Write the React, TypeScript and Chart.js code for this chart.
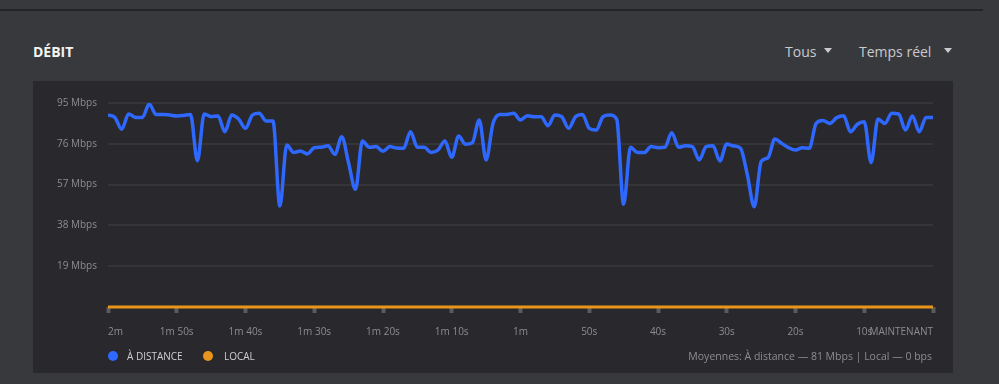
import React, { useEffect, useRef } from 'react';
import { Chart, registerables } from 'chart.js';

Chart.register(...registerables);

// seconds elapsed since the start of the 2-minute window
const SECONDS = [
  0, 1, 2, 3, 4, 5, 6, 7, 8, 9, 10, 11, 12, 13, 14, 15, 16, 17, 18, 19,
  20, 21, 22, 23, 24, 25, 26, 27, 28, 29, 30, 31, 32, 33, 34, 35, 36, 37, 38, 39,
  40, 41, 42, 43, 44, 45, 46, 47, 48, 49, 50, 51, 52, 53, 54, 55, 56, 57, 58, 59,
  60, 61, 62, 63, 64, 65, 66, 67, 68, 69, 70, 71, 72, 73, 74, 75, 76, 77, 78, 79,
  80, 81, 82, 83, 84, 85, 86, 87, 88, 89, 90, 91, 92, 93, 94, 95, 96, 97, 98, 99,
  100, 101, 102, 103, 104, 105, 106, 107, 108, 109, 110, 111, 112, 113, 114, 115, 116, 117, 118, 119,
  120,
];

const X_TICK_LABELS = ['2m', '1m 50s', '1m 40s', '1m 30s', '1m 20s', '1m 10s', '1m', '50s', '40s', '30s', '20s', '10s', 'MAINTENANT'];

// Mbps
const REMOTE = [
  89.4, 88.3, 82.8, 89.9, 88.3, 88.3, 94.5, 89.6, 89.7, 89.4,
  89.0, 89.2, 89.6, 68.1, 89.9, 88.6, 89.0, 81.6, 89.4, 87.5,
  83.2, 89.4, 90.2, 86.6, 86.6, 47.0, 75.4, 72.0, 72.6, 71.3,
  74.2, 74.4, 75.1, 71.1, 79.3, 67.0, 54.8, 77.3, 74.4, 74.7,
  72.5, 74.7, 74.0, 73.9, 81.6, 74.4, 74.4, 71.9, 73.1, 77.3,
  69.7, 79.6, 75.8, 76.5, 87.1, 68.5, 85.5, 89.7, 89.7, 90.2,
  87.1, 89.1, 88.6, 88.6, 84.4, 89.4, 88.6, 83.2, 88.6, 89.7,
  83.2, 82.4, 88.6, 89.4, 87.4, 47.8, 74.4, 71.9, 71.9, 74.7,
  74.2, 74.4, 81.2, 74.4, 75.1, 74.7, 68.5, 74.7, 75.1, 68.0,
  75.9, 75.0, 73.9, 61.5, 46.7, 67.7, 69.5, 78.2, 76.2, 74.2,
  73.1, 74.2, 73.9, 85.5, 86.8, 85.5, 88.2, 89.1, 81.6, 85.1,
  86.3, 67.2, 87.6, 85.5, 90.2, 89.9, 82.4, 89.0, 81.6, 88.3,
  88.3,
];

const LOCAL = [
  0, 0, 0, 0, 0, 0, 0, 0, 0, 0, 0, 0, 0, 0, 0, 0, 0, 0, 0, 0,
  0, 0, 0, 0, 0, 0, 0, 0, 0, 0, 0, 0, 0, 0, 0, 0, 0, 0, 0, 0,
  0, 0, 0, 0, 0, 0, 0, 0, 0, 0, 0, 0, 0, 0, 0, 0, 0, 0, 0, 0,
  0, 0, 0, 0, 0, 0, 0, 0, 0, 0, 0, 0, 0, 0, 0, 0, 0, 0, 0, 0,
  0, 0, 0, 0, 0, 0, 0, 0, 0, 0, 0, 0, 0, 0, 0, 0, 0, 0, 0, 0,
  0, 0, 0, 0, 0, 0, 0, 0, 0, 0, 0, 0, 0, 0, 0, 0, 0, 0, 0, 0,
  0,
];

const Y_MIN = 0;
const Y_MAX = 95;
const Y_STEP = 19;

const FONT = "'Open Sans', 'Noto Sans', sans-serif";
const BLUE = '#2e68ff';
const ORANGE = '#e9951c';

export default function App() {
  const canvasRef = useRef<HTMLCanvasElement | null>(null);

  useEffect(() => {
    const canvas = canvasRef.current;
    if (!canvas) return;
    const chart = new Chart(canvas, {
      type: 'line',
      data: {
        labels: SECONDS,
        datasets: [
          {
            label: 'À DISTANCE',
            data: REMOTE,
            borderColor: BLUE,
            borderWidth: 3.5,
            pointRadius: 0,
            cubicInterpolationMode: 'monotone',
            fill: false,
          },
          {
            label: 'LOCAL',
            data: LOCAL,
            borderColor: ORANGE,
            borderWidth: 3,
            pointRadius: 0,
            fill: false,
            clip: false,
          },
        ],
      },
      options: {
        responsive: false,
        animation: false,
        layout: { padding: { left: 0, right: 20, top: 22, bottom: 4 } },
        plugins: {
          legend: { display: false },
          tooltip: { enabled: false },
        },
        scales: {
          x: {
            type: 'linear',
            min: 0,
            max: 120,
            border: { display: false },
            grid: {
              drawOnChartArea: false,
              drawTicks: true,
              tickLength: 6,
              tickWidth: 4,
              tickColor: '#5b5b5f',
            },
            ticks: {
              stepSize: 10,
              autoSkip: false,
              maxRotation: 0,
              align: 'inner',
              padding: 13,
              color: '#8d8d91',
              font: { family: FONT, size: 10 },
              callback: (_v: any, i: number) => X_TICK_LABELS[i] ?? '',
            },
          },
          y: {
            min: Y_MIN,
            max: Y_MAX,
            border: { display: false },
            afterFit: (scale: any) => {
              scale.width = 75;
            },
            grid: {
              drawTicks: false,
              lineWidth: 2,
              color: (ctx: any) => (ctx.tick && ctx.tick.value === 0 ? 'rgba(0,0,0,0)' : '#353539'),
            },
            ticks: {
              stepSize: Y_STEP,
              padding: 11,
              color: '#8d8d91',
              font: { family: FONT, size: 10 },
              callback: (v: any) => (v === 0 ? '' : `${v} Mbps`),
            },
          },
        },
      },
    });
    return () => chart.destroy();
  }, []);

  const abs = (s: React.CSSProperties): React.CSSProperties => ({ position: 'absolute', ...s });

  return (
    <div style={{ position: 'fixed', left: 0, top: 0, width: 999, height: 384, background: '#38393d', fontFamily: FONT, overflow: 'hidden' }}>
      <div style={abs({ left: 0, top: 9, width: 983, height: 2, background: '#232427' })} />
      <div style={abs({ left: 33, top: 45, fontSize: 14, lineHeight: '14px', fontWeight: 700, color: '#f4f4f4' })}>DÉBIT</div>
      <div style={abs({ left: 785, top: 45, fontSize: 14, lineHeight: '14px', color: '#cacace' })}>Tous</div>
      <div style={abs({ left: 824, top: 48, width: 0, height: 0, borderLeft: '4.5px solid transparent', borderRight: '4.5px solid transparent', borderTop: '5px solid #cacace' })} />
      <div style={abs({ left: 859, top: 45, fontSize: 14, lineHeight: '14px', color: '#cacace' })}>Temps réel</div>
      <div style={abs({ left: 944, top: 48, width: 0, height: 0, borderLeft: '4.5px solid transparent', borderRight: '4.5px solid transparent', borderTop: '5px solid #cacace' })} />

      <div style={abs({ left: 33, top: 81, width: 920, height: 292, background: '#29292d' })}>
        <canvas ref={canvasRef} width={920} height={274} style={{ display: 'block', width: 920, height: 274 }} />
      </div>

      <div style={abs({ left: 108, top: 351, width: 10, height: 10, borderRadius: '50%', background: BLUE })} />
      <div style={abs({ left: 127, top: 351, fontSize: 10, lineHeight: '10px', color: '#cfcfd2' })}>À DISTANCE</div>
      <div style={abs({ left: 203, top: 351, width: 10, height: 10, borderRadius: '50%', background: ORANGE })} />
      <div style={abs({ left: 224, top: 351, fontSize: 10, lineHeight: '10px', color: '#cfcfd2' })}>LOCAL</div>
      <div style={abs({ left: 532, top: 351, width: 400, textAlign: 'right', fontSize: 10.5, lineHeight: '10px', color: '#8d8d91' })}>
        Moyennes: À distance — 81 Mbps | Local — 0 bps
      </div>
    </div>
  );
}
